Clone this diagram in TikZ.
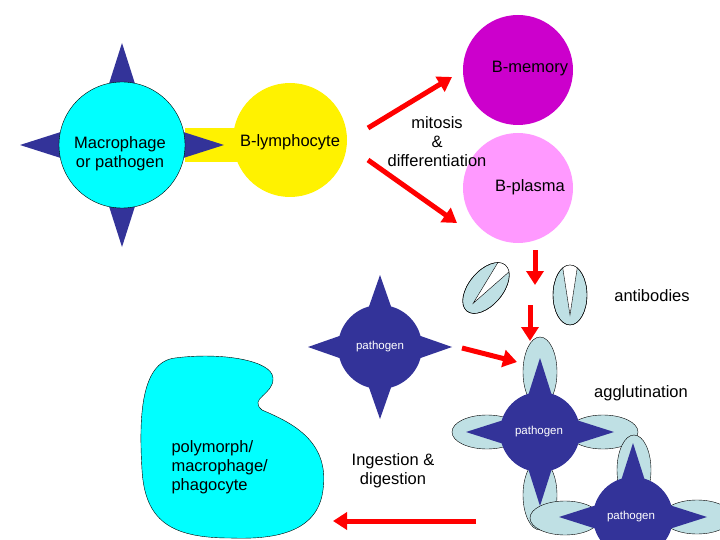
\documentclass[tikz,border=0pt]{standalone}
\usepackage{fontspec}
\setmainfont{Liberation Sans}
\usetikzlibrary{arrows.meta}
\definecolor{pblue}{HTML}{333399}
\definecolor{abody}{HTML}{BFE0E4}
\definecolor{mcyan}{HTML}{00FFFF}
\definecolor{mag}{HTML}{CC00CC}
\definecolor{plasma}{HTML}{FF99FF}
\begin{document}
\begin{tikzpicture}[x=1pt,y=-1pt,
  redarrow/.style={red,line width=5pt,-{Triangle[length=14pt,width=17pt]}},
  lbl/.style={font=\fontsize{16.5}{19}\selectfont,align=center},
  small/.style={font=\fontsize{11.5}{13}\selectfont,text=white},
  ab/.style={fill=abody,draw=black,thin}]
\useasboundingbox (0,0) rectangle (720,540);
\tikzset{pics/star/.style args={#1/#2/#3}{code={
  \foreach \a in {0,90,180,270}{
    \fill[pblue,rotate=\a] (-#3,-#1+10) -- (#3,-#1+10) -- (0,-#2) -- cycle;}
  \fill[pblue] (0,0) circle (#1);}}}
\tikzset{pics/antibody/.style={code={
  \path[ab] (0,0) ellipse (17 and 30);
  \begin{scope}
    \clip (0,0) ellipse (17 and 30);
    \filldraw[fill=white,draw=black,thin] (-8,-32) -- (0,20) -- (8,-32) -- cycle;
  \end{scope}
  \draw[thin] (0,0) ellipse (17 and 30);}}}
\tikzset{pics/cap/.style={code={\path[ab] (0,0) ellipse (17 and 35);}}}

% top row
\fill[yellow] (185,128) rectangle (245,162);
\fill[yellow] (290,140) circle (57);
\node[lbl] (blym) at (290,142) {B-lymphocyte};
\foreach \a in {0,90,180,270}
  \fill[pblue,rotate around={\a:(122,145)}] (107,90) -- (137,90) -- (122,43) -- cycle;
\filldraw[fill=mcyan,draw=black,thin] (122,145) circle (63);
\node[lbl] (macro) at (120,154) {Macrophage\\or pathogen};

\fill[mag] (518,70) circle (55);
\node[lbl] (bmem) at (530,69) {B-memory};
\fill[plasma] (518,188) circle (55);
\node[lbl] (bpla) at (530,187) {B-plasma};
\node[lbl] (mit) at (437,142) {mitosis\\\&\\differentiation};

\coordinate (m1) at (368,128); \coordinate (m2) at (452,77);
\coordinate (d1) at (368,160); \coordinate (d2) at (457,223);
\draw[redarrow] (m1) -- (m2);
\draw[redarrow] (d1) -- (d2);

% antibodies
\pic[rotate=-40] at (486,288) {antibody};
\pic at (570,295) {antibody};
\node[lbl] (abl) at (652,296) {antibodies};
\coordinate (a1) at (535,250); \coordinate (a2) at (535,285);
\coordinate (b1) at (530,305); \coordinate (b2) at (530,341);
\draw[redarrow] (a1) -- (a2);
\draw[redarrow] (b1) -- (b2);

% free pathogen
\pic at (380,347) {star={42/72/14}};
\node[small] (p1) at (380,347) {pathogen};
\coordinate (c1) at (462,348); \coordinate (c2) at (517,362);
\draw[redarrow] (c1) -- (c2);

% agglutination
\pic at (540,372) {cap};
\pic at (540,495) {cap};
\pic[rotate=90] at (487,432) {cap};
\pic[rotate=90] at (603,432) {cap};
\pic at (634,470) {cap};
\pic[rotate=90] at (565,518) {cap};
\pic[rotate=90] at (697,517) {cap};
\pic at (540,432) {star={40/74/14}};
\pic at (633,517) {star={40/74/14}};
\node[small] (p2) at (539,432) {pathogen};
\node[small] (p3) at (631,517) {pathogen};
\node[lbl] (agg) at (641,393) {agglutination};

% phagocyte
\filldraw[fill=mcyan,draw=black,thin] (175,358) .. controls (220,352) and (272,360) .. (273,378)
  .. controls (274,395) and (248,398) .. (262,410)
  .. controls (290,422) and (330,440) .. (323,490)
  .. controls (318,530) and (280,540) .. (230,538)
  .. controls (170,538) and (145,520) .. (142,470)
  .. controls (139,420) and (140,362) .. (175,358);
\node[lbl,align=left,anchor=west] (phag) at (168,467) {polymorph/\\macrophage/\\phagocyte};
\node[lbl] (ing) at (393,471) {Ingestion \&\\digestion};
\coordinate (e1) at (476,521); \coordinate (e2) at (333,521);
\draw[redarrow] (e1) -- (e2);
\end{tikzpicture}
\end{document}
